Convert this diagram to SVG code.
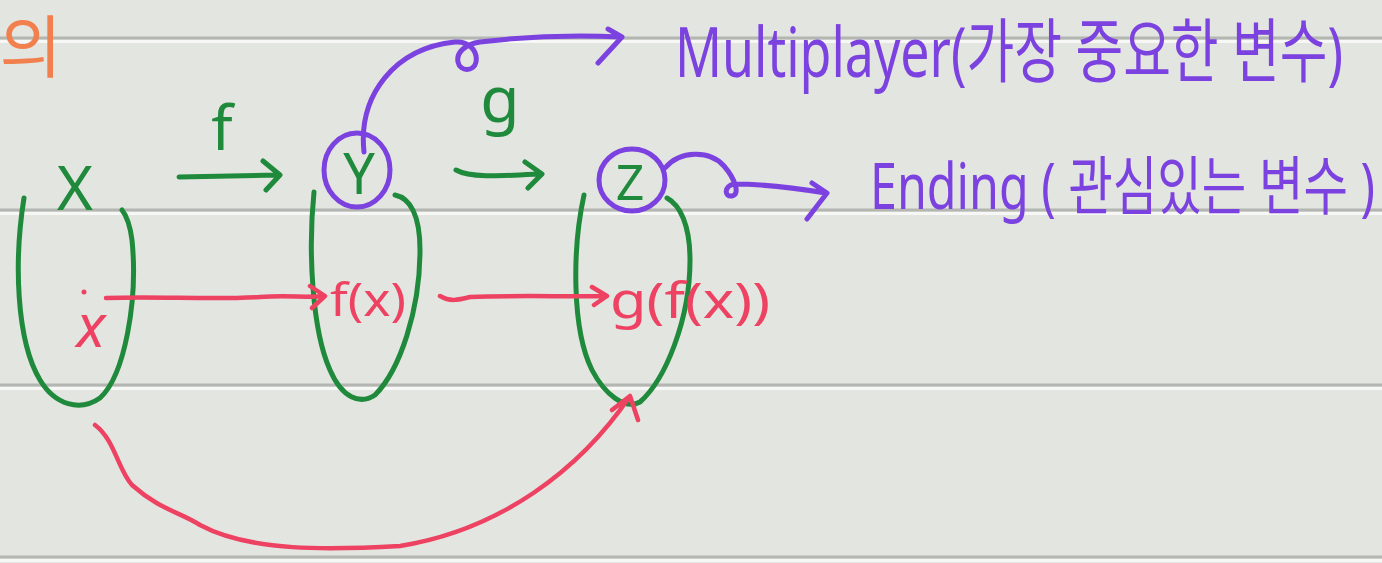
<svg xmlns="http://www.w3.org/2000/svg" width="1382" height="563" viewBox="0 0 1382 563">
  <defs>
    <style>
      .rule { stroke: #b4b6b2; stroke-width: 3; }
      .hl { stroke: #f7f8f6; stroke-width: 3; }
      .ink { fill: none; stroke-linecap: round; stroke-linejoin: round; }
      .green { stroke: #1f8a3b; stroke-width: 5; }
      .purple { stroke: #7c42e0; stroke-width: 5; }
      .red { stroke: #ee4262; stroke-width: 4.5; }
      .hand { font-family: "Noto Sans", "Noto Sans CJK KR", "DejaVu Sans", sans-serif; }
      .tg { fill: #1f8a3b; }
      .tp { fill: #7c42e0; }
      .tr { fill: #ee4262; }
      .to { fill: #f2804f; }
    </style>
  </defs>

  <!-- paper -->
  <rect width="1382" height="563" fill="#e3e5e1"/>
  <g id="ruling">
    <line class="rule" x1="0" y1="38" x2="1382" y2="38"/>
    <line class="hl" x1="0" y1="41.5" x2="1382" y2="41.5"/>
    <line class="rule" x1="0" y1="210" x2="1382" y2="210"/>
    <line class="hl" x1="0" y1="213.5" x2="1382" y2="213.5"/>
    <line class="rule" x1="0" y1="385" x2="1382" y2="385"/>
    <line class="hl" x1="0" y1="388.5" x2="1382" y2="388.5"/>
    <line class="rule" x1="0" y1="557" x2="1382" y2="557"/>
    <line class="hl" x1="0" y1="560.5" x2="1382" y2="560.5"/>
  </g>

  <!-- heading fragment at the left margin -->
  <text class="hand to" x="62" y="72" font-size="68" text-anchor="end">정의</text>

  <!-- set X -->
  <g id="set-x">
    <text class="hand tg" x="75" y="210" font-size="62" text-anchor="middle">X</text>
    <path class="ink green" d="M24 198 C14 260 16 340 40 380 C55 405 80 412 100 398 C125 375 138 300 132 240 C130 225 126 215 122 210"/>
    <circle cx="84" cy="292" r="2.5" fill="#ee4262"/>
    <text class="hand tr" x="91" y="347" font-size="60" font-style="italic" text-anchor="middle">x</text>
  </g>

  <!-- set Y -->
  <g id="set-y">
    <path class="ink green" d="M314 192 C308 250 312 330 330 370 C342 398 360 405 375 395 C400 370 420 310 420 250 C420 215 410 198 395 195"/>
    <ellipse class="ink purple" cx="357" cy="170" rx="33" ry="37"/>
    <text class="hand tg" x="359" y="194" font-size="56" text-anchor="middle">Y</text>
    <text class="hand tr" x="330" y="316" font-size="46" textLength="76" lengthAdjust="spacingAndGlyphs">f(x)</text>
  </g>

  <!-- set Z -->
  <g id="set-z">
    <path class="ink green" d="M584 195 C572 250 572 330 592 370 C605 395 625 410 640 402 C665 380 690 320 690 260 C690 225 680 205 667 198"/>
    <ellipse class="ink purple" cx="632" cy="180" rx="33" ry="31"/>
    <text class="hand tg" x="630" y="200" font-size="50" text-anchor="middle">Z</text>
    <text class="hand tr" x="610" y="318" font-size="50" textLength="160" lengthAdjust="spacingAndGlyphs">g(f(x))</text>
  </g>

  <!-- labels -->
  <g id="label-multiplayer">
    <text class="hand tp" x="675" y="77" font-size="70" textLength="668" lengthAdjust="spacingAndGlyphs">Multiplayer(가장 중요한 변수)</text>
  </g>
  <g id="label-ending">
    <text class="hand tp" x="870" y="209" font-size="64" textLength="505" lengthAdjust="spacingAndGlyphs">Ending ( 관심있는 변수 )</text>
  </g>

  <!-- connectors -->
  <g id="connectors">
    <!-- f : X -> Y -->
    <text class="hand tg" x="222" y="150" font-size="62" text-anchor="middle">f</text>
    <path class="ink green" d="M179 177 L278 175 M263 161 L280 175 L266 190"/>
    <!-- g : Y -> Z -->
    <text class="hand tg" x="500" y="122" font-size="64" text-anchor="middle">g</text>
    <path class="ink green" d="M456 170 C470 178 500 176 540 174 M525 162 L542 174 L528 188"/>

    <!-- Y -> Multiplayer -->
    <path class="ink purple" d="M364 152 C358 95 395 48 455 42 C468 41 478 50 476 62 C474 72 460 72 458 62 C456 52 466 44 480 42 C530 36 580 35 621 37 M608 29 L622 37 L598 63"/>
    <!-- Z -> Ending -->
    <path class="ink purple" d="M665 168 C680 150 710 150 724 166 C736 180 740 195 732 196 C724 197 724 186 734 184 C760 184 795 188 826 193 M812 183 L827 193 L807 219"/>

    <!-- x -> f(x) -->
    <path class="ink red" d="M106 298 C160 296 210 300 260 297 C290 295 305 298 322 296 M310 286 L325 296 L312 308"/>
    <!-- f(x) -> g(f(x)) -->
    <path class="ink red" d="M440 296 C450 302 458 300 470 297 C520 295 570 297 604 296 M592 287 L607 296 L594 305"/>
    <!-- x -> g(f(x)) directly -->
    <path class="ink red" d="M95 425 C115 440 118 470 132 485 C160 510 180 512 200 525 C250 552 330 550 400 546 C500 530 580 470 630 396 M612 410 L630 396 L638 420"/>
  </g>
</svg>
